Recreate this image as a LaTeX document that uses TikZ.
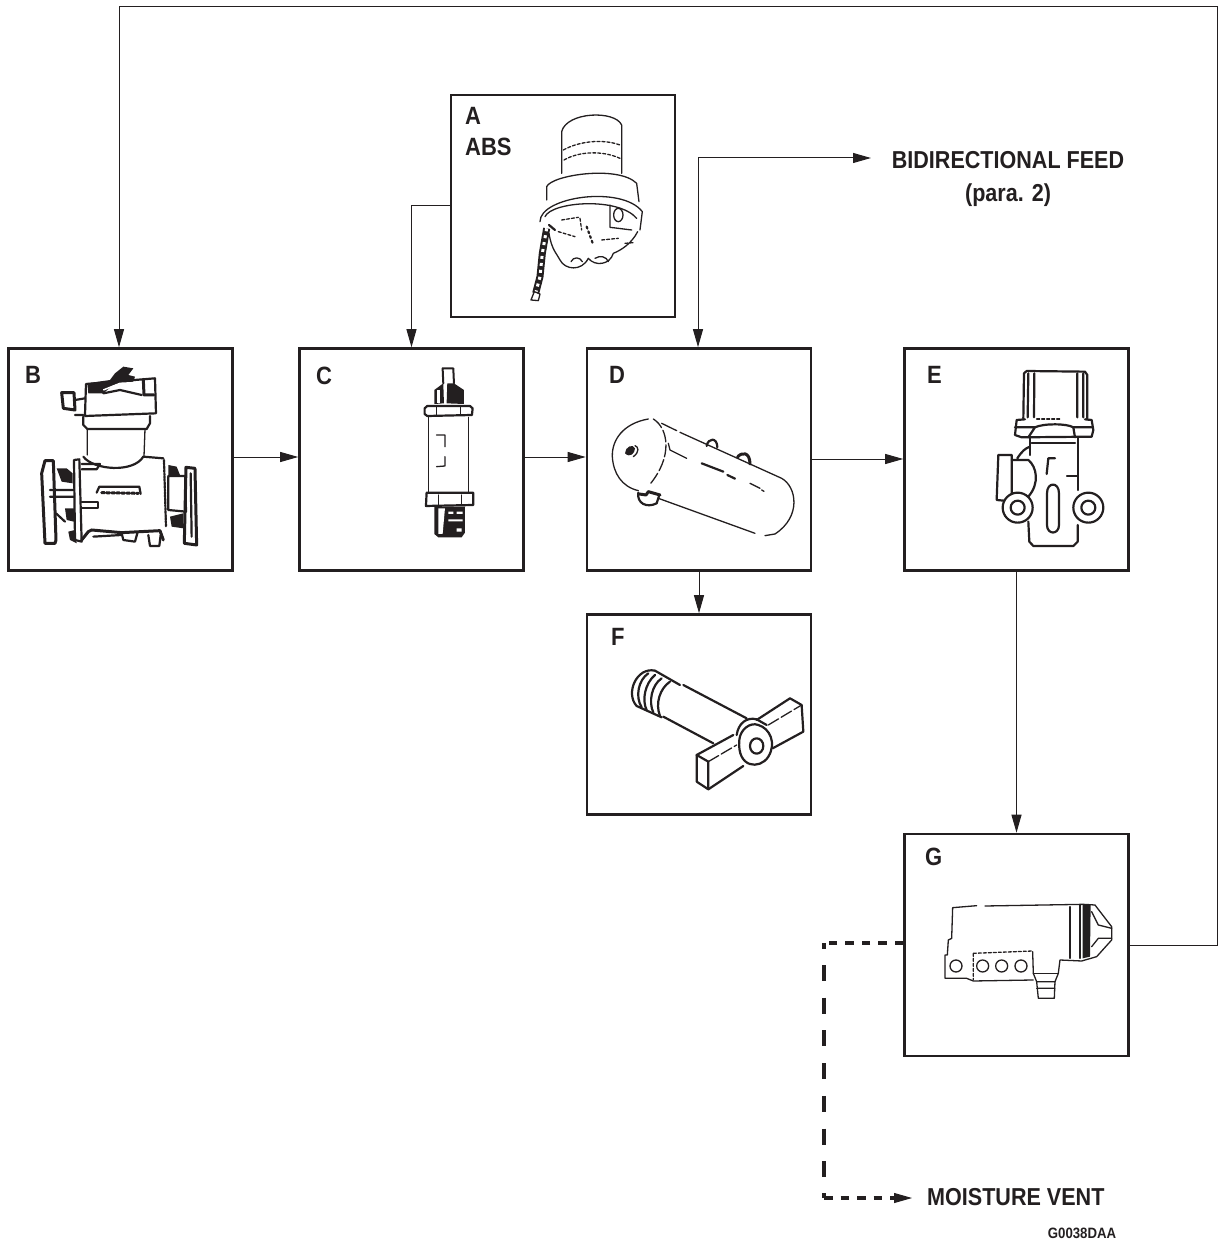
\documentclass[tikz,border=0pt]{standalone}
\usepackage{fontspec}
\setmainfont{Liberation Sans}[FakeStretch=0.88]
\usetikzlibrary{arrows.meta, positioning}
\definecolor{ink}{HTML}{231F20}
\tikzset{crop/.style={shift={(#1)}, x=0.3333pt, y=-0.3333pt}}

\begin{document}
\begin{tikzpicture}[x=1pt, y=-1pt, node distance=291pt]
    \tikzstyle{part} = [rectangle, draw=ink, line width=2.6pt, minimum width=224pt, minimum height=222pt, inner sep=0pt]
    \tikzstyle{tag} = [anchor=west, inner sep=0pt, text=ink, font=\fontsize{25}{31}\selectfont\bfseries, align=left]
    \tikzstyle{note} = [inner sep=0pt, text=ink, font=\fontsize{24.5}{30}\selectfont\bfseries]
    \tikzstyle{arrow} = [ink, line width=1pt, -{Triangle[length=18pt, width=10pt]}]
    \tikzstyle{wire} = [ink, line width=1pt]
    \tikzstyle{shortdash} = [ink, line width=3.6pt, dash pattern=on 8.5pt off 8pt]
    \tikzstyle{longdash} = [ink, line width=3.6pt, dash pattern=on 16pt off 16.7pt]
    \tikzstyle{sketch} = [ink, line width=1.3pt, line join=round, line cap=round]
    \tikzstyle{heavy} = [ink, line width=2.2pt, line join=round, line cap=round]

    \useasboundingbox (0,0) rectangle (1218,1241);

    \node [part] (compressor) at (120.5,459.5) {};
    \node [part, right of=compressor] (governor) {};
    \node [part, right of=governor, node distance=287.5pt] (tank) {};
    \node [part, right of=tank, node distance=317.5pt] (valve) {};
    \node [part] (abs) at (563,206) {};
    \node [part, below of=tank, node distance=255pt, minimum height=200pt] (drain) {};
    \node [part, below of=valve, node distance=485.5pt] (dryer) {};

    \node [tag] (tagb) at (25,375) {B};
    \node [tag] (tagc) at (316,376) {C};
    \node [tag] (tagd) at (609,375) {D};
    \node [tag] (tage) at (927,375) {E};
    \node [tag] (tagf) at (611,637) {F};
    \node [tag] (tagg) at (925,857) {G};
    \node [tag] (taga) at (465,132) {A\\ABS};

    \node [note] (feed) at (1008,160) {BIDIRECTIONAL FEED};
    \node [note, below of=feed, node distance=35pt] (para) {(para. 2)};
    \node [note, anchor=west] (vent) at (927,1197) {MOISTURE VENT};
    \node [note, font=\fontsize{15}{18}\selectfont\bfseries] (code) at (1082,1233) {G0038DAA};

    \coordinate (feedend) at (871,158);
    \coordinate (ventend) at (912,1198);
    \coordinate (ventstop) at (894,1198);
    \coordinate (ventup) at (824,943);
    \coordinate (ventmid) at (824,965);
    \coordinate (ventlow) at (824,1178);
    \coordinate (ventdown) at (824,1198);
    \coordinate (loopa) at (1217,945);
    \coordinate (loopb) at (1217,7);
    \coordinate (loopc) at (119,7);

    \draw [arrow] (compressor.east |- 0,457) -- (governor.west |- 0,457);
    \draw [arrow] (governor.east |- 0,457) -- (tank.west |- 0,457);
    \draw [arrow] (tank.east |- 0,459) -- (valve.west |- 0,459);
    \draw [arrow] (abs.west) -| (governor.north);
    \draw [arrow] (tank.south) -- (drain.north);
    \draw [arrow] (valve.south) -- (dryer.north);
    \draw [arrow, {Triangle[length=18pt, width=10pt]}-{Triangle[length=18pt, width=10pt]}] (tank.north -| 698,0) |- (feedend);
    \draw [wire] (dryer.east) -- (loopa) -- (loopb) -- (loopc);
    \draw [arrow] (loopc) -- (compressor.north -| loopc);
    \draw [shortdash] (dryer.west |- ventup) -- (ventup);
    \draw [longdash] (ventup) -- ++(0,6);
    \draw [longdash] (ventmid) -- (ventlow);
    \draw [longdash] (ventdown) -- ++(0,-5);
    \draw [shortdash] (ventdown) -- (ventstop);
    \draw [arrow] (ventstop) -- (ventend);

    \begin{scope}[crop={445,90}]
        \draw [sketch] (350,250) -- (350,125) .. controls (365,65) and (510,60) .. (530,105) -- (530,250);
        \draw [sketch, densely dashed] (355,180) .. controls (400,155) and (470,145) .. (525,165);
        \draw [sketch, densely dashed] (357,210) .. controls (400,185) and (470,180) .. (525,205);
        \draw [sketch] (305,330) -- (305,290) .. controls (320,255) and (520,225) .. (575,280) -- (582,335);
        \draw [sketch] (285,395) .. controls (285,320) and (530,285) .. (592,365) -- (585,420);
        \draw [sketch] (300,380) .. controls (320,335) and (520,320) .. (575,385);
        \draw [sketch] (312,430) .. controls (320,480) and (335,490) .. (345,510) .. controls (360,540) and (410,545) .. (430,505) .. controls (450,530) and (495,525) .. (505,490) .. controls (530,480) and (560,460) .. (578,425);
        \draw [sketch] (378,515) .. controls (385,500) and (405,500) .. (412,515);
        \draw [sketch] (450,505) .. controls (465,495) and (485,500) .. (490,515);
        \draw [sketch] (495,345) -- (495,412) -- (560,420);
        \draw [sketch] (520,375) ellipse (14 and 20);
        \draw [sketch, densely dashed] (350,390) -- (400,382) (405,385) -- (410,420) (340,425) -- (390,440) (470,450) -- (520,445) (540,460) -- (565,458);
        \draw [heavy, dash pattern=on 2pt off 3pt] (425,410) -- (445,465);
        \draw [heavy] (312,405) -- (330,420);
        \draw [ink, line width=7pt, line join=round] (305,415) -- (292,490) -- (285,560) -- (272,610);
        \draw [white, line width=3pt, dash pattern=on 3pt off 4pt] (305,415) -- (292,490) -- (285,560) -- (272,610);
        \draw [sketch, fill=white] (258,630) -- (268,605) -- (285,612) -- (280,632) -- cycle;
    \end{scope}

    \begin{scope}[crop={0,340}]
        \draw [heavy] (255,225) -- (258,132) -- (465,115) -- (468,220) -- (255,228);
        \fill [ink] (262,130) -- (330,120) -- (345,100) -- (370,80) -- (400,85) -- (385,105) -- (405,110) -- (400,125) -- (340,135) -- (310,160) -- (265,160) -- cycle;
        \draw [white, line width=1.5pt] (310,150) -- (360,130) -- (400,128);
        \draw [heavy] (310,160) -- (360,150) -- (425,165);
        \draw [heavy, line width=3pt] (430,118) -- (432,165) -- (462,165);
        \draw [heavy, line width=3pt] (185,158) -- (222,158) -- (225,210) -- (190,205) -- cycle;
        \draw [heavy] (225,180) -- (255,175) (225,225) -- (250,225);
        \draw [heavy] (250,230) -- (250,255) -- (262,267) -- (440,267) -- (450,250) -- (450,228);
        \draw [sketch] (262,268) -- (262,345) (435,268) -- (432,350);
        \draw [heavy] (250,350) .. controls (280,390) and (400,400) .. (430,350) -- (490,355);
        \draw [heavy, densely dotted] (492,360) -- (498,560);
        \draw [heavy] (222,360) -- (238,358) -- (245,605) -- (225,600) -- cycle;
        \draw [heavy, line width=3pt] (135,610) -- (125,400) -- (135,362) -- (160,362) -- (168,600) -- (165,610) -- cycle;
        \fill [ink] (170,385) -- (200,385) -- (218,400) -- (218,430) -- (185,425) -- cycle;
        \fill [ink] (195,505) -- (222,505) -- (222,545) -- (200,540) -- cycle;
        \draw [heavy] (150,450) -- (222,450) (150,470) -- (222,470) (168,520) -- (195,545);
        \draw [heavy] (245,485) -- (295,485) -- (295,505) -- (245,505);
        \draw [heavy] (245,372) -- (300,372) -- (290,388) -- (245,388);
        \draw [heavy] (290,458) -- (298,440) -- (418,440) -- (422,462);
        \draw [heavy, line width=3pt, densely dashed] (305,458) -- (415,460);
        \draw [heavy] (505,410) -- (505,510) -- (558,515) -- (556,408) -- (505,408);
        \fill [ink] (505,375) -- (530,380) -- (540,405) -- (505,405) -- cycle;
        \fill [ink] (510,530) -- (550,520) -- (550,565) -- (515,560) -- cycle;
        \draw [heavy, line width=3pt] (558,382) -- (585,385) -- (590,615) -- (553,610) -- cycle;
        \draw [heavy] (572,400) -- (575,590);
        \draw [heavy, line width=3pt] (245,600) -- (265,575) -- (275,570) -- (365,578) -- (480,572) -- (490,600);
        \draw [heavy] (280,590) -- (365,585);
        \draw [heavy] (365,580) -- (370,600) -- (405,605) -- (412,580);
        \draw [heavy] (445,585) -- (450,618) -- (478,618) -- (482,585);
        \fill [ink] (205,575) -- (225,570) -- (230,610) -- (210,600) -- cycle;
    \end{scope}

    \begin{scope}[crop={0,340}]
        \draw [sketch, line width=2pt] (1330,130) -- (1328,85) -- (1360,85) -- (1362,130);
        \fill [ink] (1303,192) -- (1303,150) -- (1330,130) -- (1332,190) -- cycle;
        \fill [ink] (1340,190) -- (1342,130) -- (1362,130) -- (1392,150) -- (1392,192) -- cycle;
        \fill [white] (1312,150) rectangle (1320,190);
        \draw [heavy] (1282,198) -- (1410,198) -- (1418,205) -- (1416,225) -- (1282,228) -- (1274,222) -- (1274,205) -- cycle;
        \draw [sketch] (1310,200) -- (1310,225) (1382,200) -- (1382,225);
        \draw [sketch] (1285,232) -- (1285,455) (1405,232) -- (1405,455);
        \draw [sketch] (1310,285) -- (1335,285) -- (1335,320) (1335,350) -- (1335,378) -- (1310,380);
        \draw [heavy] (1280,458) -- (1420,458) -- (1420,495) -- (1278,498) -- cycle;
        \draw [sketch] (1315,465) -- (1315,495) (1385,465) -- (1385,495);
        \fill [ink] (1303,500) -- (1395,500) -- (1395,578) -- (1385,592) -- (1315,592) -- (1303,582) -- cycle;
        \fill [white] (1315,505) -- (1335,505) -- (1328,582) -- (1315,582) -- cycle;
        \fill [white] (1345,515) rectangle (1360,522) (1370,515) rectangle (1388,522) (1345,538) rectangle (1388,544) (1370,565) rectangle (1385,575);
    \end{scope}

    \begin{scope}[crop={580,340}]
        \draw [sketch] (205,237) .. controls (130,250) and (95,300) .. (97,350) .. controls (100,400) and (125,440) .. (175,452);
        \draw [sketch, dash pattern=on 12pt off 3pt] (220,237) .. controls (265,265) and (280,350) .. (208,435);
        \draw [sketch] (245,250) -- (290,272) (300,277) -- (605,415) .. controls (650,440) and (665,530) .. (585,582) -- (555,587);
        \draw [sketch] (235,475) -- (525,580);
        \fill [ink] (135,340) .. controls (135,320) and (160,310) .. (165,325) .. controls (165,340) and (150,355) .. (135,340);
        \draw [sketch] (160,350) .. controls (180,335) and (175,320) .. (165,317);
        \draw [heavy] (380,318) .. controls (385,292) and (412,292) .. (412,322);
        \draw [heavy, line width=3pt] (472,352) .. controls (485,335) and (510,335) .. (510,372);
        \draw [heavy] (175,458) .. controls (170,490) and (200,505) .. (230,490) -- (238,465);
        \draw [heavy, line width=3pt] (178,462) -- (198,465) -- (205,455) -- (240,465);
        \draw [sketch] (265,310) -- (270,330) -- (320,355);
        \draw [heavy] (365,370) -- (430,395) (442,405) -- (465,416);
        \draw [sketch] (510,430) -- (540,445) (545,450) -- (552,454);
    \end{scope}

    \begin{scope}[crop={900,340}]
        \draw [heavy] (370,235) -- (372,100) -- (380,93) -- (555,95) -- (562,105) -- (562,238);
        \draw [heavy] (385,100) -- (383,232) (403,100) -- (402,232) (532,100) -- (532,232) (550,100) -- (550,232);
        \draw [sketch, densely dashed] (410,237) -- (480,237);
        \draw [heavy] (375,238) -- (350,240) -- (345,285) -- (365,292) -- (575,290) -- (580,270) -- (575,240) -- (555,238);
        \draw [heavy] (345,262) -- (405,262) -- (385,292) (575,262) -- (520,262) -- (525,292) (405,262) .. controls (430,250) and (500,250) .. (520,262);
        \draw [heavy] (390,295) -- (390,345) (535,295) -- (535,450) (395,310) -- (525,310);
        \draw [heavy] (385,545) -- (388,605) -- (400,618) -- (520,618) -- (533,605) -- (533,555);
        \draw [heavy] (353,503) circle (15pt) (353,503) circle (7pt);
        \draw [heavy] (565,503) circle (15pt) (565,503) circle (7pt);
        \draw [heavy] (335,345) -- (295,345) -- (290,480) -- (312,482) (335,345) -- (335,462);
        \draw [heavy] (352,355) .. controls (365,335) and (375,325) .. (390,320) (335,360) -- (385,360) .. controls (410,380) and (420,430) .. (385,470);
        \draw [heavy] (441,460) .. controls (441,425) and (477,425) .. (477,460) -- (477,555) .. controls (477,585) and (441,585) .. (441,555) -- cycle;
        \draw [heavy] (465,355) -- (445,355) -- (440,402);
        \draw [sketch] (500,408) -- (530,408);
    \end{scope}

    \begin{scope}[crop={580,610}]
        \draw [heavy] (225,182) .. controls (170,170) and (135,250) .. (170,288) -- (245,322);
        \draw [heavy] (205,190) .. controls (175,210) and (165,260) .. (185,292);
        \draw [heavy] (225,195) .. controls (195,220) and (185,270) .. (200,300);
        \draw [heavy] (245,205) .. controls (215,225) and (205,275) .. (220,308);
        \draw [heavy] (270,215) .. controls (240,235) and (225,280) .. (240,318);
        \draw [heavy] (225,182) -- (300,225) (310,225) -- (500,325);
        \draw [heavy] (250,320) -- (400,400);
        \draw [heavy] (350,435) -- (460,375);
        \draw [heavy] (350,435) -- (350,515) -- (385,538) -- (490,468);
        \draw [heavy] (350,435) -- (385,455) -- (385,538);
        \draw [heavy] (530,330) -- (630,265) -- (665,285) -- (670,365) -- (578,415);
        \draw [sketch, dash pattern=on 12pt off 3pt] (385,455) -- (470,405) (565,345) -- (665,285);
        \draw [heavy] (478,390) .. controls (480,360) and (510,335) .. (535,345) .. controls (570,355) and (590,400) .. (565,440) .. controls (540,480) and (470,475) .. (478,390);
        \draw [heavy] (470,375) .. controls (475,340) and (500,320) .. (530,328) -- (560,345);
        \draw [heavy] (530,408) ellipse (20 and 23);
    \end{scope}

    \begin{scope}[crop={810,825}]
        \draw [sketch] (425,340) -- (428,248) -- (500,242) (525,243) -- (820,238) -- (855,240) -- (905,305) -- (905,345) -- (860,395) -- (815,408) -- (750,405) -- (745,445) -- (735,470) (680,470) -- (670,445) -- (668,380);
        \draw [sketch] (670,445) -- (745,445);
        \draw [sketch] (425,340) -- (415,345) -- (412,390) -- (405,390) -- (405,460) -- (470,460) -- (490,468) -- (670,465);
        \draw [sketch, densely dashed] (490,385) -- (490,465) (490,385) -- (668,378);
        \draw [sketch] (438,423) circle (6pt) (518,423) circle (6pt) (575,423) circle (6pt) (633,423) circle (6pt);
        \draw [sketch] (680,470) -- (735,470) -- (733,520) -- (685,520) -- cycle (680,490) -- (735,490);
        \draw [sketch] (780,245) -- (780,400) (810,240) -- (810,400);
        \fill [ink] (818,240) -- (842,240) -- (840,395) -- (818,400) -- cycle;
        \draw [sketch] (845,260) -- (865,300) -- (905,310) (845,365) -- (865,340) -- (905,340);
    \end{scope}
\end{tikzpicture}
\end{document}
